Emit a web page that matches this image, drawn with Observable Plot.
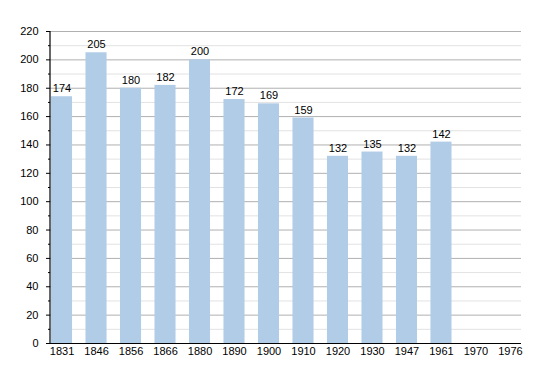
<!DOCTYPE html>
<html>
<head>
<meta charset="utf-8">
<script src="https://cdn.jsdelivr.net/npm/d3@7"></script>
<script src="https://cdn.jsdelivr.net/npm/@observablehq/plot@0.6"></script>
<style>
  html, body { margin: 0; padding: 0; background: #fff; }
  svg { display: block; }
</style>
</head>
<body>
<div id="chart"></div>
<script>
const years = ["1831","1846","1856","1866","1880","1890","1900","1910","1920","1930","1947","1961","1970","1976"];
const population = [174,205,180,182,200,172,169,159,132,135,132,142,null,null];
const majorTicks = [0,20,40,60,80,100,120,140,160,180,200,220];
const minorTicks = [10,30,50,70,90,110,130,150,170,190,210];

const data = years.map((year, i) => ({year, value: population[i]})).filter(d => d.value != null);

const chart = Plot.plot({
  width: 550,
  height: 373,
  marginLeft: 50,
  marginRight: 29,
  marginTop: 31,
  marginBottom: 30,
  style: {fontFamily: "'Liberation Sans', Arial, sans-serif", fontSize: "11px", color: "#000", background: "#fff"},
  x: {domain: years, range: [51, 520.5], paddingInner: 0.39, paddingOuter: 0, align: 0, round: false},
  y: {domain: [0, 220]},
  marks: [
    Plot.ruleY(minorTicks, {stroke: "#e2e2e2", strokeWidth: 1}),
    Plot.ruleY(majorTicks.filter(d => d > 0), {stroke: "#b0b0b0", strokeWidth: 1}),
    Plot.barY(data, {x: "year", y: "value", fill: "#b1cce6"}),
    Plot.text(data, {x: "year", y: "value", text: d => String(d.value), dy: -8, fill: "#000", fontSize: 11}),
    Plot.axisY({ticks: majorTicks, tickSize: 4, tickPadding: 8, stroke: "#000", strokeOpacity: 1, fill: "#000", label: null}),
    Plot.axisY({ticks: minorTicks, tickSize: 2, text: null, stroke: "#000", strokeOpacity: 1, label: null}),
    Plot.axisX({tickSize: 0, tickPadding: 4, fill: "#000", label: null}),
    Plot.ruleY([0], {stroke: "#000", strokeWidth: 1.2})
  ]
});
const svg = d3.select(chart);
svg.append("line")
  .attr("x1", 50).attr("x2", 50).attr("y1", 31).attr("y2", 343)
  .attr("stroke", "#000").attr("stroke-width", 1.2);
document.getElementById("chart").appendChild(chart);
</script>
</body>
</html>
